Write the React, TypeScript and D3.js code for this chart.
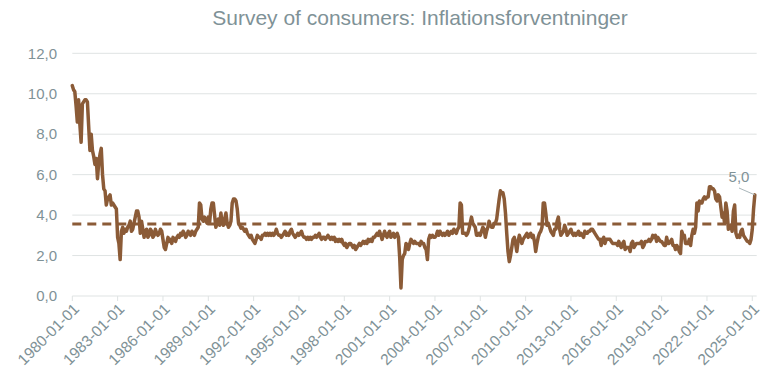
import { useMemo } from 'react';
import * as d3 from 'd3';

const START_YEAR = 1980;

// monthly values, Jan 1980 .. Mar 2025 (one row per year)
const expectations: number[] = [
  10.4, 10.2, 10.1, 9.4, 8.6, 9.7, 8.5, 7.6, 9.5, 9.6, 9.7, 9.7,
  9.6, 8.4, 7.2, 8.0, 7.2, 6.9, 6.5, 6.8, 5.8, 6.6, 7.0, 7.3,
  6.0, 5.3, 5.2, 4.5, 4.8, 4.9, 5.0, 4.5, 4.6, 4.5, 4.4, 4.3,
  2.9, 2.6, 1.8, 3.2, 3.4, 3.1, 3.3, 3.2, 3.4, 3.5, 3.7, 3.2,
  3.3, 3.6, 3.9, 4.2, 4.2, 3.9, 3.1, 3.7, 3.3, 2.9, 3.2, 3.3,
  2.9, 3.0, 3.3, 3.2, 2.9, 3.0, 3.3, 3.1, 3.0, 3.1, 3.3, 3.2,
  2.8, 2.4, 2.3, 2.6, 2.9, 2.7, 2.8, 2.6, 2.9, 2.8, 2.7, 2.9,
  3.0, 2.9, 3.1, 3.0, 3.2, 3.1, 2.9, 3.0, 3.2, 3.1, 3.0, 3.2,
  3.1, 3.0, 3.2, 3.3, 3.4, 4.6, 4.5, 3.8, 3.7, 3.9, 3.7, 3.6,
  3.9, 3.6, 4.3, 4.6, 4.6, 4.0, 3.4, 3.6, 3.8, 3.5, 4.1, 3.6,
  3.5, 3.8, 4.1, 3.6, 3.4, 3.5, 3.7, 4.6, 4.8, 4.8, 4.7, 4.3,
  3.6, 3.5, 3.35, 3.4, 3.3, 3.2, 3.3, 3.1, 3.0, 2.9, 3.0, 2.8,
  2.7, 2.6, 2.8, 3.0, 2.9, 2.9, 2.8, 3.0, 3.0, 3.1, 3.0, 3.1,
  3.0, 3.1, 3.0, 3.1, 3.0, 3.1, 3.3, 3.1, 3.0, 3.0, 2.9, 3.0,
  3.1, 3.2, 3.0, 3.1, 3.0, 3.2, 3.3, 3.1, 3.0, 2.9, 3.0, 3.1,
  3.0, 3.1, 3.2, 3.0, 2.9, 2.9, 2.8, 2.9, 2.8, 2.9, 2.8, 2.9,
  2.9, 3.0, 2.9, 3.0, 3.1, 2.9, 2.8, 2.9, 2.9, 2.8, 2.9, 3.0,
  2.9, 2.8, 2.9, 2.8, 2.9, 2.7, 2.8, 2.7, 2.8, 2.7, 2.8, 2.6,
  2.5, 2.6, 2.4, 2.5, 2.6, 2.6, 2.5, 2.4, 2.5, 2.3, 2.4, 2.5,
  2.6, 2.5, 2.6, 2.7, 2.6, 2.7, 2.6, 2.8, 2.7, 2.8, 2.7, 2.9,
  2.9, 3.0, 3.1, 3.0, 3.2, 3.0, 2.8, 3.0, 3.2, 3.0, 2.9, 3.1,
  3.2, 2.9, 3.0, 3.1, 2.9, 3.0, 3.1, 2.9, 1.9, 0.4, 1.8, 2.0,
  2.1, 2.6, 2.5, 2.3, 2.6, 2.8, 2.7, 2.6, 2.7, 2.6, 2.6, 2.6,
  2.5, 2.7, 2.6, 2.6, 2.4, 2.3, 1.8, 2.8, 3.0, 2.9, 3.0, 2.9,
  2.9, 3.0, 3.2, 3.0, 3.2, 3.1, 3.0, 3.1, 3.0, 3.1, 3.2, 3.0,
  3.1, 3.2, 3.1, 3.3, 3.2, 3.1, 3.3, 3.4, 4.6, 4.5, 3.1, 3.1,
  3.1, 3.0, 3.1, 3.3, 3.6, 3.9, 3.6, 3.5, 3.4, 3.0, 3.0, 3.1,
  3.0, 3.2, 3.4, 3.3, 2.9, 3.2, 3.4, 3.7, 3.5, 3.4, 3.4, 3.6,
  3.6, 3.8, 4.3, 4.8, 5.2, 5.1, 5.1, 4.8, 4.1, 3.1, 2.2, 1.7,
  2.0, 2.4, 2.8, 2.9, 2.6, 2.2, 2.7, 3.0, 2.8, 2.6, 2.8, 2.9,
  3.0, 3.1, 2.9, 3.0, 3.1, 2.9, 3.0, 2.7, 2.2, 2.6, 2.9, 3.1,
  3.2, 3.4, 4.6, 4.6, 4.1, 3.5, 3.6, 3.4, 3.2, 3.1, 3.0, 3.3,
  3.3, 3.7, 3.9, 3.3, 3.0, 3.1, 3.2, 3.5, 3.3, 3.0, 3.1, 3.2,
  3.3, 3.1, 3.0, 3.1, 3.0, 3.1, 3.2, 3.0, 3.1, 3.0, 2.9, 3.2,
  3.1, 3.1, 3.2, 3.2, 3.3, 3.3, 3.2, 3.1, 3.0, 2.9, 2.8, 2.8,
  2.5, 2.8, 2.9, 2.6, 2.8, 2.8, 2.8, 2.8, 2.7, 2.6, 2.6, 2.6,
  2.6, 2.5, 2.7, 2.5, 2.4, 2.6, 2.7, 2.3, 2.4, 2.4, 2.4, 2.2,
  2.6, 2.7, 2.4, 2.5, 2.6, 2.6, 2.6, 2.6, 2.7, 2.4, 2.5, 2.7,
  2.7, 2.7, 2.8, 2.7, 2.8, 3.0, 2.9, 3.0, 2.7, 2.9, 2.8, 2.7,
  2.7, 2.6, 2.5, 2.5, 2.9, 2.6, 2.6, 2.7, 2.8, 2.5, 2.5, 2.3,
  2.5, 2.4, 2.2, 2.1, 3.2, 3.0, 3.0, 2.6, 2.6, 2.6, 2.8, 2.5,
  3.0, 3.3, 3.1, 3.4, 4.6, 4.2, 4.7, 4.6, 4.6, 4.8, 4.9, 4.8,
  4.9, 4.9, 5.4, 5.4, 5.3, 5.3, 5.2, 4.8, 4.7, 5.0, 4.9, 4.4,
  3.9, 4.1, 3.6, 4.6, 4.2, 3.3, 3.4, 3.5, 3.2, 4.2, 4.5, 3.1,
  2.9, 3.0, 2.9, 3.2, 3.3, 3.0, 2.9, 2.8, 2.7, 2.7, 2.6, 2.8,
  3.3, 4.3, 5.0,
];

const AVERAGE = 3.56;
const Y_TICKS = [0, 2, 4, 6, 8, 10, 12];
const TICK_YEARS = [1980, 1983, 1986, 1989, 1992, 1995, 1998, 2001, 2004, 2007, 2010, 2013, 2016, 2019, 2022, 2025];

const W = 780;
const H = 384;
const LEFT = 72.3;
const RIGHT = 756.7;
const TOP = 53.3;
const BOTTOM = 296;

const LINE_COLOR = '#8b5b37';
const TEXT_COLOR = '#7f9297';
const GRID_COLOR = '#dfe3e3';
const FONT = '"Liberation Sans", Arial, sans-serif';

const fmt = (v: number) => v.toFixed(1).replace('.', ',');

export default function App() {
  const x = useMemo(
    () => d3.scaleLinear().domain([0, 543.5]).range([LEFT, RIGHT]),
    [],
  );
  const y = useMemo(
    () => d3.scaleLinear().domain([0, 12]).range([BOTTOM, TOP]),
    [],
  );

  const linePath =
    d3
      .line<number>()
      .x((_, i) => x(i))
      .y((d) => y(d))(expectations) ?? '';

  const lastIdx = expectations.length - 1;
  const lastVal = expectations[lastIdx];

  return (
    <div style={{ position: 'fixed', left: 0, top: 0 }}>
      <svg width={W} height={H} style={{ display: 'block', background: '#fff' }}>
        <text
          x={420}
          y={25}
          textAnchor="middle"
          fill={TEXT_COLOR}
          fontSize={21}
          fontFamily={FONT}
        >
          Survey of consumers: Inflationsforventninger
        </text>

        {Y_TICKS.map((t) => (
          <g key={t}>
            <line
              x1={LEFT}
              x2={RIGHT}
              y1={y(t)}
              y2={y(t)}
              stroke={GRID_COLOR}
              strokeWidth={1}
            />
            <text
              x={57}
              y={y(t)}
              dy="0.35em"
              textAnchor="end"
              fill={TEXT_COLOR}
              fontSize={15}
              fontFamily={FONT}
            >
              {fmt(t)}
            </text>
          </g>
        ))}

        {TICK_YEARS.map((yr) => {
          const px = x((yr - START_YEAR) * 12);
          return (
            <g key={yr}>
              <line x1={px} x2={px} y1={BOTTOM} y2={BOTTOM + 5} stroke={GRID_COLOR} />
              <text
                transform={`translate(${px + 4},${BOTTOM + 10}) rotate(-45)`}
                textAnchor="end"
                dy="0.35em"
                fill={TEXT_COLOR}
                fontSize={15.5}
                fontFamily={FONT}
              >
                {`${yr}-01-01`}
              </text>
            </g>
          );
        })}

        <line
          x1={LEFT}
          x2={RIGHT}
          y1={y(AVERAGE)}
          y2={y(AVERAGE)}
          stroke={LINE_COLOR}
          strokeWidth={3.2}
          strokeDasharray="9 6"
        />

        <path
          d={linePath}
          fill="none"
          stroke={LINE_COLOR}
          strokeWidth={3.5}
          strokeLinejoin="round"
          strokeLinecap="round"
        />

        <line
          x1={739}
          y1={188}
          x2={x(lastIdx)}
          y2={y(lastVal)}
          stroke="#a9b6ba"
          strokeWidth={1}
        />
        <text
          x={739}
          y={182}
          textAnchor="middle"
          fill={TEXT_COLOR}
          fontSize={15}
          fontFamily={FONT}
        >
          {fmt(lastVal)}
        </text>
      </svg>
    </div>
  );
}
